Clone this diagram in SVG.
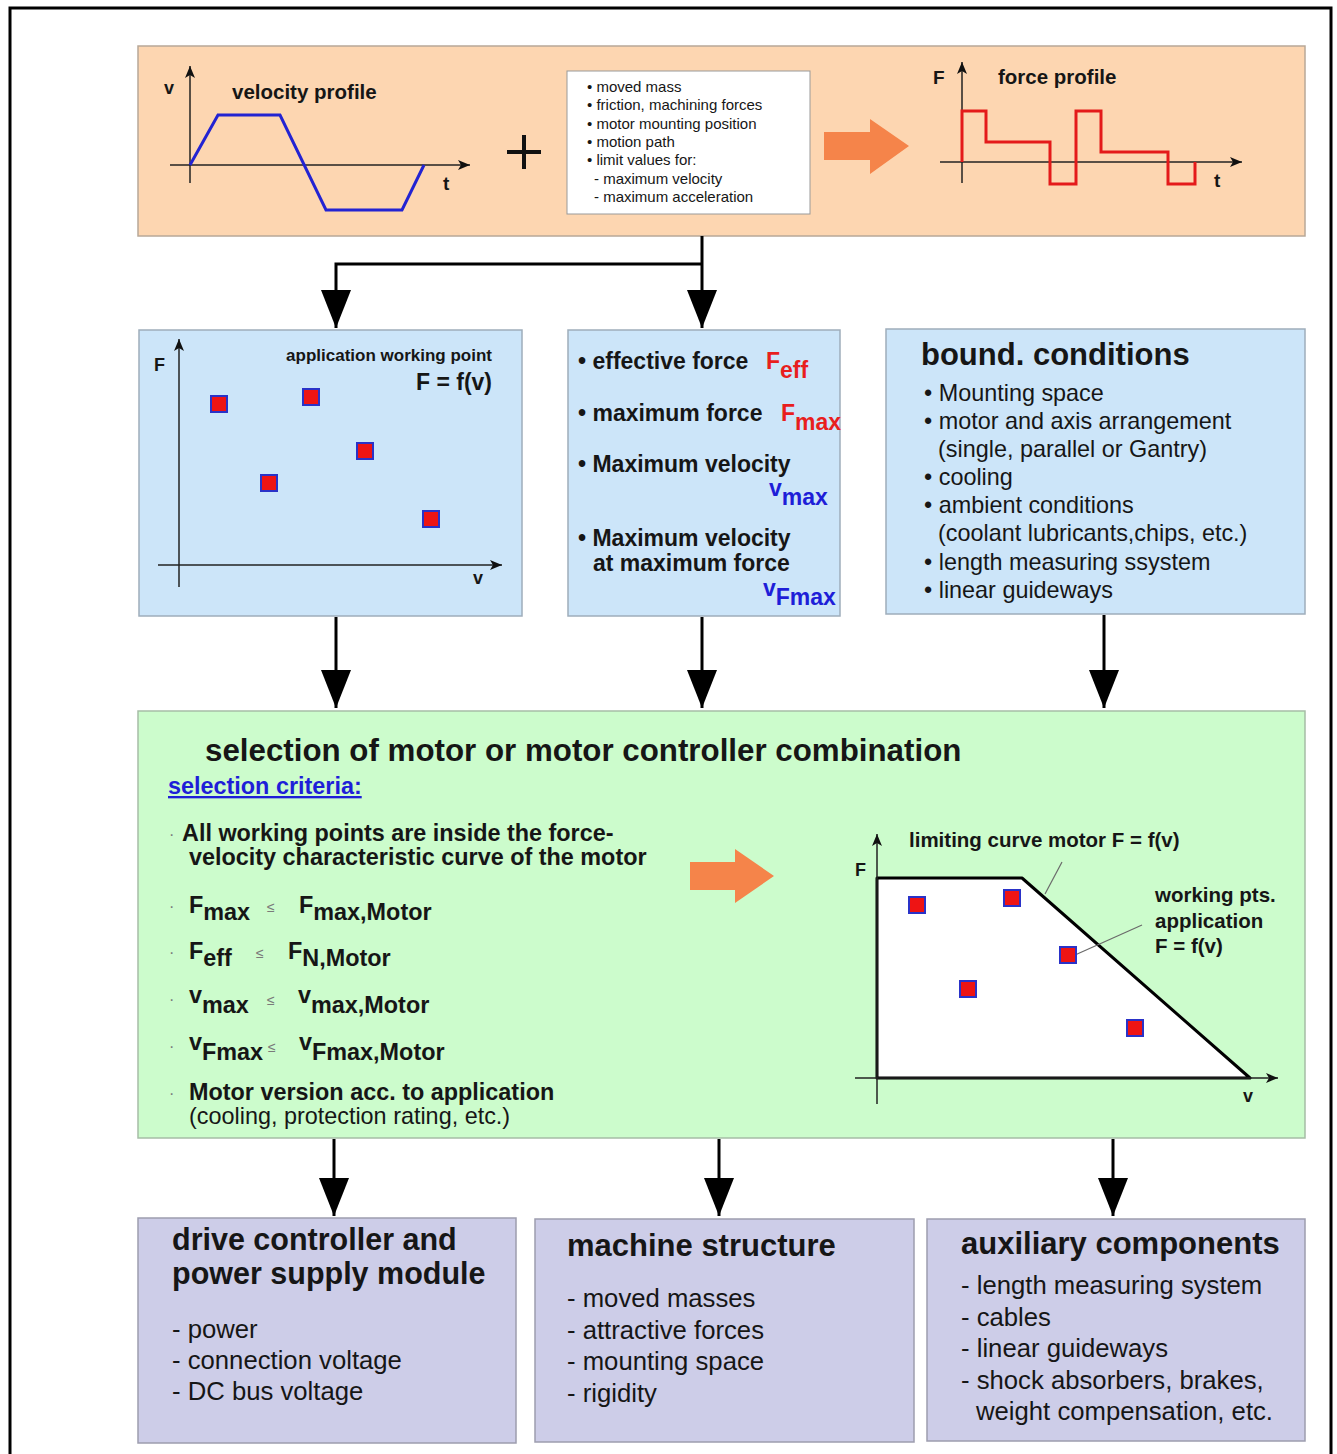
<svg xmlns="http://www.w3.org/2000/svg" width="1337" height="1454" viewBox="0 0 1337 1454">
  <defs>
    <style>
      text { font-family: "Liberation Sans", Arial, Helvetica, sans-serif; fill: #161616; }
      .b { font-weight: bold; }
      .peach { fill: #FDD6B1; stroke: #B8A898; stroke-width: 1.5; }
      .blue { fill: #CCE5F9; stroke: #9EADBB; stroke-width: 1.5; }
      .green { fill: #CCFCCC; stroke: #A6BDA6; stroke-width: 1.5; }
      .lav { fill: #CDCDE8; stroke: #9D9DAE; stroke-width: 1.5; }
      .axis { fill: none; stroke: #222; stroke-width: 1.5; }
      .pt { fill: #EE1414; stroke: #2A32C8; stroke-width: 2; }
      .conn { fill: none; stroke: #000; stroke-width: 3; }
      .orange { fill: #F5844A; }
      .red { fill: #E81E1E; }
      .bl { fill: #1E1ED8; }
      .le { fill: #7A7A7A; }
    </style>
    <marker id="arr" viewBox="0 0 38 30" refX="38" refY="15" markerWidth="38" markerHeight="30" markerUnits="userSpaceOnUse" orient="auto">
      <path d="M0,0 L38,15 L0,30 z" fill="#000"/>
    </marker>
    <marker id="ax" viewBox="0 0 12 10" refX="12" refY="5" markerWidth="12" markerHeight="10" markerUnits="userSpaceOnUse" orient="auto">
      <path d="M0,0 L12,5 L0,10 L3,5 z" fill="#111"/>
    </marker>
  </defs>

  <rect x="0" y="0" width="1337" height="1454" fill="#fff"/>
  <!-- outer frame -->
  <rect x="10" y="8" width="1321" height="1470" fill="none" stroke="#000" stroke-width="3"/>

  <!-- input band: velocity profile + data -> force profile -->
  <g id="inputs">
    <rect class="peach" x="138" y="46" width="1167" height="190"/>
    <line class="axis" x1="190" y1="183" x2="190" y2="66" marker-end="url(#ax)"/>
    <line class="axis" x1="170" y1="165" x2="470" y2="165" marker-end="url(#ax)"/>
    <polyline points="190,165 218,115 280,115 326,210 402,210 424,165" fill="none" stroke="#2323D2" stroke-width="3"/>
    <text class="b" x="164" y="94" font-size="18">v</text>
    <text class="b" x="232" y="99" font-size="20.5">velocity profile</text>
    <text class="b" x="443" y="190" font-size="19">t</text>
    <path d="M507,152 H541 M524,135 V169" stroke="#111" stroke-width="4" fill="none"/>
    <rect x="567" y="71" width="243" height="143" fill="#fff" stroke="#999" stroke-width="1"/>
    <g font-size="15">
      <text x="587" y="92">• moved mass</text>
      <text x="587" y="110">• friction, machining forces</text>
      <text x="587" y="129">• motor mounting position</text>
      <text x="587" y="147">• motion path</text>
      <text x="587" y="165">• limit values for:</text>
      <text x="594" y="184">- maximum velocity</text>
      <text x="594" y="202">- maximum acceleration</text>
    </g>
    <polygon class="orange" points="824,132 870,132 870,119 909,146 870,174 870,160 824,160"/>
    <line class="axis" x1="962" y1="183" x2="962" y2="62" marker-end="url(#ax)"/>
    <line class="axis" x1="940" y1="162" x2="1242" y2="162" marker-end="url(#ax)"/>
    <polyline points="962,162 962,111 986,111 986,142 1050,142 1050,184 1076,184 1076,111 1101,111 1101,152 1168,152 1168,184 1195,184 1195,162" fill="none" stroke="#E41A1A" stroke-width="3"/>
    <text class="b" x="933" y="84" font-size="19">F</text>
    <text class="b" x="998" y="84" font-size="20.5">force profile</text>
    <text class="b" x="1214" y="187" font-size="19">t</text>
  </g>

  <!-- working points of the application -->
  <g id="working-points">
    <rect class="blue" x="139" y="330" width="383" height="286"/>
    <line class="axis" x1="179" y1="587" x2="179" y2="339" marker-end="url(#ax)"/>
    <line class="axis" x1="158" y1="565" x2="502" y2="565" marker-end="url(#ax)"/>
    <text class="b" x="154" y="371" font-size="18">F</text>
    <text class="b" x="473" y="584" font-size="18">v</text>
    <text class="b" x="492" y="361" font-size="17" text-anchor="end">application working point</text>
    <text class="b" x="492" y="390" font-size="23" text-anchor="end">F = f(v)</text>
    <g>
      <rect class="pt" x="211" y="396" width="16" height="16"/>
      <rect class="pt" x="303" y="389" width="16" height="16"/>
      <rect class="pt" x="357" y="443" width="16" height="16"/>
      <rect class="pt" x="261" y="475" width="16" height="16"/>
      <rect class="pt" x="423" y="511" width="16" height="16"/>
    </g>
  </g>

  <!-- characteristic values -->
  <g id="characteristics" font-size="23">
    <rect class="blue" x="568" y="330" width="272" height="286"/>
    <text class="b" x="578" y="369">• effective force<tspan class="red" x="766" y="369">F</tspan><tspan class="red" dy="9">eff</tspan></text>
    <text class="b" x="578" y="421">• maximum force<tspan class="red" x="781" y="421">F</tspan><tspan class="red" dy="9">max</tspan></text>
    <text class="b" x="578" y="472">• Maximum velocity</text>
    <text class="b bl" x="769" y="496">v<tspan dy="9">max</tspan></text>
    <text class="b" x="578" y="546">• Maximum velocity</text>
    <text class="b" x="593" y="571">at maximum force</text>
    <text class="b bl" x="763" y="596">v<tspan dy="9">Fmax</tspan></text>
  </g>

  <!-- boundary conditions -->
  <g id="boundary-conditions">
    <rect class="blue" x="886" y="329" width="419" height="285"/>
    <text class="b" x="921" y="365" font-size="31">bound. conditions</text>
    <g font-size="23.4">
      <text x="924" y="401">• Mounting space</text>
      <text x="924" y="429">• motor and axis arrangement</text>
      <text x="938" y="457">(single, parallel or Gantry)</text>
      <text x="924" y="485">• cooling</text>
      <text x="924" y="513">• ambient conditions</text>
      <text x="938" y="541">(coolant lubricants,chips, etc.)</text>
      <text x="924" y="570">• length measuring ssystem</text>
      <text x="924" y="598">• linear guideways</text>
    </g>
  </g>

  <!-- motor selection -->
  <g id="motor-selection">
    <rect class="green" x="138" y="711" width="1167" height="427"/>
    <text class="b" x="205" y="761" font-size="31.3">selection of motor or motor controller combination</text>
    <text class="b bl" x="168" y="794" font-size="23.4" text-decoration="underline">selection criteria:</text>
    <g font-size="23.4">
      <text class="le" x="169" y="840" font-size="16">·</text>
      <text class="b" x="182" y="841">All working points are inside the force-<tspan x="189" y="865">velocity characteristic curve of the motor</tspan></text>

      <text class="le" x="169" y="912" font-size="16">·</text>
      <text class="b" x="189" y="913">F<tspan dy="7">max</tspan></text>
      <text class="le" x="267" y="912" font-size="14">≤</text>
      <text class="b" x="299" y="913">F<tspan dy="7">max,Motor</tspan></text>

      <text class="le" x="169" y="958" font-size="16">·</text>
      <text class="b" x="189" y="959">F<tspan dy="7">eff</tspan></text>
      <text class="le" x="256" y="958" font-size="14">≤</text>
      <text class="b" x="288" y="959">F<tspan dy="7">N,Motor</tspan></text>

      <text class="le" x="169" y="1005" font-size="16">·</text>
      <text class="b" x="189" y="1003">v<tspan dy="10">max</tspan></text>
      <text class="le" x="267" y="1005" font-size="14">≤</text>
      <text class="b" x="298" y="1003">v<tspan dy="10">max,Motor</tspan></text>

      <text class="le" x="169" y="1052" font-size="16">·</text>
      <text class="b" x="189" y="1050">v<tspan dy="10">Fmax</tspan></text>
      <text class="le" x="268" y="1052" font-size="14">≤</text>
      <text class="b" x="299" y="1050">v<tspan dy="10">Fmax,Motor</tspan></text>

      <text class="le" x="169" y="1099" font-size="16">·</text>
      <text class="b" x="189" y="1100">Motor version acc. to application<tspan font-weight="normal" x="189" y="1124">(cooling, protection rating, etc.)</tspan></text>
    </g>
    <polygon class="orange" points="690,862 735,862 735,849 774,876 735,903 735,890 690,890"/>
    <!-- motor limiting curve with working points -->
    <polygon points="877,878 1022,878 1250,1078 877,1078" fill="#fff" stroke="#000" stroke-width="3" stroke-linejoin="round"/>
    <line class="axis" x1="877" y1="1104" x2="877" y2="834" marker-end="url(#ax)"/>
    <line class="axis" x1="855" y1="1078" x2="1278" y2="1078" marker-end="url(#ax)"/>
    <line x1="1062" y1="862" x2="1045" y2="894" stroke="#6A6A6A" stroke-width="1.2"/>
    <line x1="1142" y1="925" x2="1075" y2="955" stroke="#6A6A6A" stroke-width="1.2"/>
    <rect class="pt" x="909" y="897" width="16" height="16"/>
    <rect class="pt" x="1004" y="890" width="16" height="16"/>
    <rect class="pt" x="1060" y="947" width="16" height="16"/>
    <rect class="pt" x="960" y="981" width="16" height="16"/>
    <rect class="pt" x="1127" y="1020" width="16" height="16"/>
    <text class="b" x="855" y="876" font-size="18">F</text>
    <text class="b" x="1243" y="1102" font-size="18">v</text>
    <g font-size="20.5">
      <text class="b" x="909" y="847">limiting curve motor F = f(v)</text>
      <text class="b" x="1155" y="902">working pts.<tspan x="1155" y="928">application</tspan><tspan x="1155" y="953">F = f(v)</tspan></text>
    </g>
  </g>

  <!-- resulting requirements -->
  <g id="drive-controller">
    <rect class="lav" x="138" y="1218" width="378" height="225"/>
    <text class="b" x="172" y="1250" font-size="30.5">drive controller and</text>
    <text class="b" x="172" y="1284" font-size="30.5">power supply module</text>
    <g font-size="25.7">
      <text x="172" y="1338">- power</text>
      <text x="172" y="1369">- connection voltage</text>
      <text x="172" y="1400">- DC bus voltage</text>
    </g>
  </g>

  <g id="machine-structure">
    <rect class="lav" x="535" y="1219" width="379" height="223"/>
    <text class="b" x="567" y="1256" font-size="31">machine structure</text>
    <g font-size="25.7">
      <text x="567" y="1307">- moved masses</text>
      <text x="567" y="1339">- attractive forces</text>
      <text x="567" y="1370">- mounting space</text>
      <text x="567" y="1402">- rigidity</text>
    </g>
  </g>

  <g id="auxiliary-components">
    <rect class="lav" x="927" y="1219" width="378" height="222"/>
    <text class="b" x="961" y="1254" font-size="31">auxiliary components</text>
    <g font-size="25.7">
      <text x="961" y="1294">- length measuring system</text>
      <text x="961" y="1326">- cables</text>
      <text x="961" y="1357">- linear guideways</text>
      <text x="961" y="1389">- shock absorbers, brakes,<tspan x="976" y="1420">weight compensation, etc.</tspan></text>
    </g>
  </g>

  <!-- connectors -->
  <g id="connectors">
    <path class="conn" d="M702,236 V328" marker-end="url(#arr)"/>
    <path class="conn" d="M702,264 H336 V328" marker-end="url(#arr)"/>
    <path class="conn" d="M336,617 V708" marker-end="url(#arr)"/>
    <path class="conn" d="M702,617 V708" marker-end="url(#arr)"/>
    <path class="conn" d="M1104,615 V708" marker-end="url(#arr)"/>
    <path class="conn" d="M334,1139 V1216" marker-end="url(#arr)"/>
    <path class="conn" d="M719,1139 V1216" marker-end="url(#arr)"/>
    <path class="conn" d="M1113,1139 V1216" marker-end="url(#arr)"/>
  </g>
</svg>
